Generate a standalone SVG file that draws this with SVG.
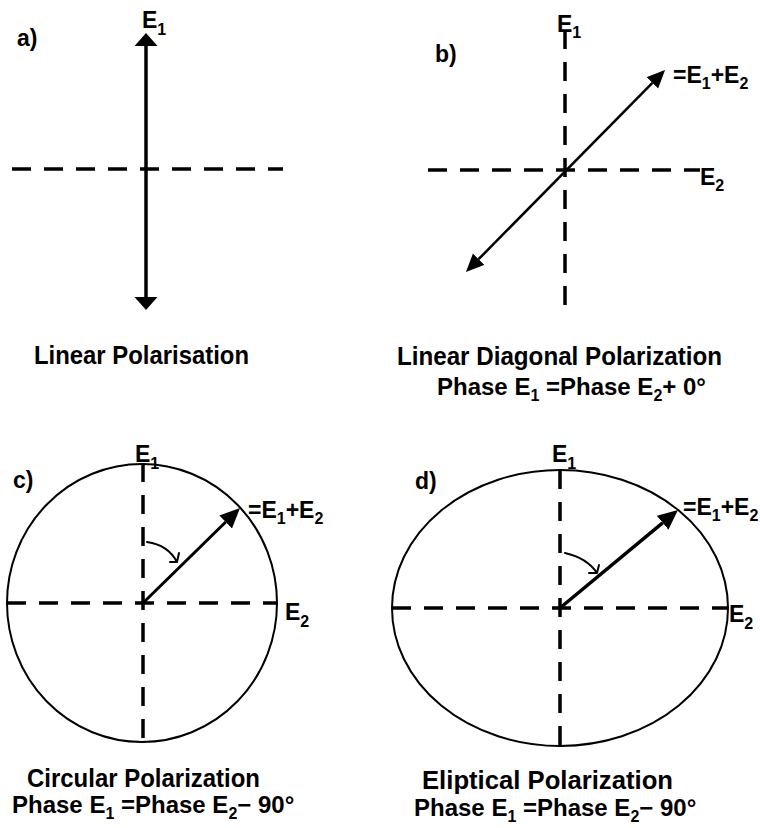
<svg xmlns="http://www.w3.org/2000/svg" width="760" height="828" viewBox="0 0 760 828">
<style>
text{font-family:"Liberation Sans",Arial,sans-serif;font-weight:bold;fill:#000}
.cap{font-size:26px}
.ph{font-size:24px}
.lbl{font-size:23px}
.sub{font-size:16px}
.dash{stroke:#000;stroke-width:3.5;stroke-dasharray:19 13;fill:none}
.ring{stroke:#000;stroke-width:2;fill:none}
.vec{stroke:#000;fill:none}
.curl{stroke:#000;stroke-width:2;fill:none;stroke-linecap:round;stroke-linejoin:round}
</style>
<defs>
<marker id="headA" markerUnits="userSpaceOnUse" markerWidth="14" markerHeight="24" refX="0" refY="11.5" orient="auto-start-reverse"><path d="M0,0 L13,11.5 L0,23 z" fill="#000"/></marker>
<marker id="headB" markerUnits="userSpaceOnUse" markerWidth="20" markerHeight="18" refX="0" refY="8" orient="auto-start-reverse"><path d="M0,0 L18,8 L0,16 z" fill="#000"/></marker>
<marker id="headC" markerUnits="userSpaceOnUse" markerWidth="22" markerHeight="20" refX="0" refY="9" orient="auto"><path d="M0,0 L20,9 L0,18 z" fill="#000"/></marker>
</defs>
<rect width="760" height="828" fill="#fff"/>

<g id="panel-a">
<text class="lbl" x="17" y="46">a)</text>
<line class="dash" x1="12" y1="169" x2="283" y2="169"/>
<text class="lbl" x="142" y="28">E<tspan class="sub" dy="7">1</tspan></text>
<text class="cap" x="34" y="364" textLength="215" lengthAdjust="spacingAndGlyphs">Linear Polarisation</text>
</g>

<g id="panel-b">
<text class="lbl" x="435" y="62">b)</text>
<line class="dash" x1="565" y1="30" x2="565" y2="312"/>
<line class="dash" x1="428" y1="170" x2="700" y2="170"/>
<text class="lbl" x="557" y="32">E<tspan class="sub" dy="6">1</tspan></text>
<text class="lbl" x="700" y="185">E<tspan class="sub" dy="6">2</tspan></text>
<text class="lbl" x="673" y="83">=E<tspan class="sub" dy="6">1</tspan><tspan dy="-6">+E</tspan><tspan class="sub" dy="6">2</tspan></text>
<text class="cap" x="397" y="365" textLength="325" lengthAdjust="spacingAndGlyphs">Linear Diagonal Polarization</text>
<text class="ph" x="437" y="395">Phase E<tspan class="sub" dy="6">1</tspan><tspan dy="-6"> =Phase E</tspan><tspan class="sub" dy="6">2</tspan><tspan dy="-6">+ 0°</tspan></text>
</g>

<g id="panel-c">
<text class="lbl" x="13" y="488">c)</text>
<ellipse class="ring" cx="142" cy="603" rx="135" ry="139"/>
<line class="dash" x1="143" y1="463" x2="143" y2="742"/>
<line class="dash" x1="7" y1="603" x2="277" y2="603"/>
<text class="lbl" x="135" y="462">E<tspan class="sub" dy="7">1</tspan></text>
<text class="lbl" x="285" y="620">E<tspan class="sub" dy="7">2</tspan></text>
<text class="lbl" x="248" y="518">=E<tspan class="sub" dy="6">1</tspan><tspan dy="-6">+E</tspan><tspan class="sub" dy="6">2</tspan></text>
<text class="cap" x="27" y="787" textLength="233" lengthAdjust="spacingAndGlyphs">Circular Polarization</text>
<text class="ph" x="12" y="813">Phase E<tspan class="sub" dy="6">1</tspan><tspan dy="-6"> =Phase E</tspan><tspan class="sub" dy="6">2</tspan><tspan dy="-6">− 90°</tspan></text>
</g>

<g id="panel-d">
<text class="lbl" x="415" y="489">d)</text>
<ellipse class="ring" cx="560" cy="608" rx="168" ry="138"/>
<line class="dash" x1="560" y1="470" x2="560" y2="746"/>
<line class="dash" x1="392" y1="608" x2="728" y2="608"/>
<text class="lbl" x="552" y="462">E<tspan class="sub" dy="7">1</tspan></text>
<text class="lbl" x="729" y="622">E<tspan class="sub" dy="7">2</tspan></text>
<text class="lbl" x="683" y="515">=E<tspan class="sub" dy="6">1</tspan><tspan dy="-6">+E</tspan><tspan class="sub" dy="6">2</tspan></text>
<text class="cap" x="422" y="789" textLength="251" lengthAdjust="spacingAndGlyphs">Eliptical Polarization</text>
<text class="ph" x="414" y="816">Phase E<tspan class="sub" dy="6">1</tspan><tspan dy="-6"> =Phase E</tspan><tspan class="sub" dy="6">2</tspan><tspan dy="-6">− 90°</tspan></text>
</g>

<g id="connectors">
<line class="vec" stroke-width="3.5" x1="146" y1="46" x2="146" y2="297" marker-start="url(#headA)" marker-end="url(#headA)"/>
<line class="vec" stroke-width="2.5" x1="478.6" y1="259.2" x2="652.4" y2="82.8" marker-start="url(#headB)" marker-end="url(#headB)"/>
<line class="vec" stroke-width="3" x1="143" y1="603" x2="225.7" y2="522" marker-end="url(#headC)"/>
<line class="vec" stroke-width="3.5" x1="560" y1="608" x2="662.6" y2="522.8" marker-end="url(#headC)"/>
<path class="curl" d="M147,542 Q168,545 177,562 M170,562 L177,562 L179,553"/>
<path class="curl" d="M565,553 Q587,558 597,573 M589,573 L597,573 L599,565"/>
</g>
</svg>
